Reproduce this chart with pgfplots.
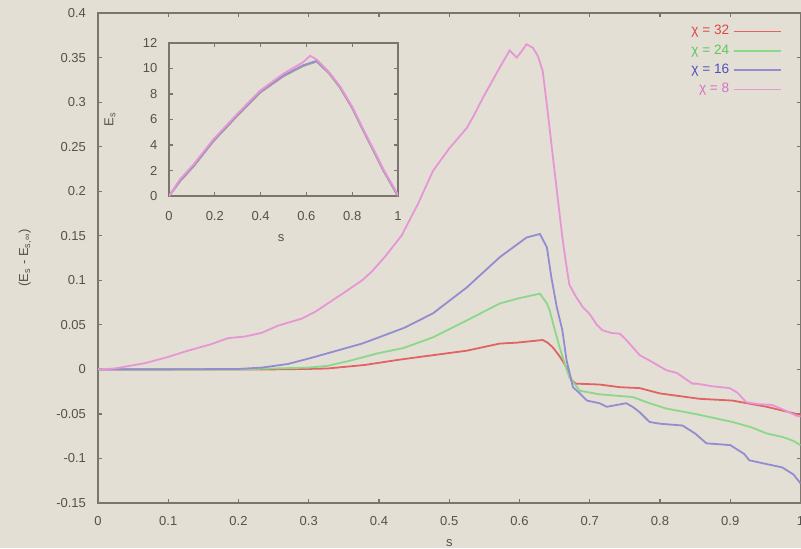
\documentclass[border=0pt]{standalone}
\usepackage{pgfplots}
\pgfplotsset{compat=1.18}
\usepackage{fontspec}
\setmainfont{Liberation Sans}
\definecolor{bgc}{HTML}{E4DFD4}
\definecolor{framec}{HTML}{7A766E}
\definecolor{txtc}{HTML}{55524C}
\definecolor{c32}{HTML}{E06464}
\definecolor{c24}{HTML}{8AD88A}
\definecolor{c16}{HTML}{948CD0}
\definecolor{c8}{HTML}{E696D6}
\definecolor{t32}{HTML}{D84848}
\definecolor{t24}{HTML}{5CC85C}
\definecolor{t16}{HTML}{5050B8}
\definecolor{t8}{HTML}{D670C8}
\pgfplotsset{
  gp/.style={
    scale only axis, anchor=south west,
    axis line style={framec, line width=0.8pt},
    tick style={framec, line width=0.6pt},
    tick align=inside, major tick length=2pt,
    every tick label/.append style={font=\fontsize{6.5}{7}\selectfont, text=txtc},
    label style={font=\fontsize{6.5}{7}\selectfont, text=txtc},
    /pgf/number format/.cd, fixed, precision=2, assume math mode=true,
  },
}
\begin{document}
\begin{tikzpicture}
\fill[bgc] (0,0) rectangle (400.5pt,-274pt);
\begin{axis}[gp,
  at={(49pt,-251.5pt)}, width=351.25pt, height=245pt,
  xmin=0, xmax=1, ymin=-0.15, ymax=0.4,
  xtick={0,0.1,0.2,0.3,0.4,0.5,0.6,0.7,0.8,0.9,1},
  ytick={-0.15,-0.1,-0.05,0,0.05,0.1,0.15,0.2,0.25,0.3,0.35,0.4},
  xticklabel style={yshift=-3pt},
  yticklabel style={xshift=-2.5pt},
  xlabel={s}, ylabel={(E\textsubscript{s} - E\textsubscript{s,∞})},
  xlabel style={at={(axis description cs:0.5,0)}, anchor=center, yshift=-20pt},
  ylabel style={at={(axis description cs:0,0.5)}, anchor=center, yshift=36.5pt},
  legend plot pos=right, legend cell align=right,
  legend style={at={(0.974,0.984)}, anchor=north east, draw=none, fill=none,
    inner sep=0pt, font=\fontsize{6.8}{7.5}\selectfont, row sep=-0.6pt,
    /tikz/every even column/.append style={column sep=3pt}},
  legend image code/.code={\draw[#1, line width=0.8pt] (0pt,0pt) -- (23.5pt,0pt);},
]
\addplot[c32, line width=0.9pt] coordinates {
(0,0) (0.25,0) (0.30,0.0005) (0.327,0.001) (0.38,0.005) (0.43,0.011) (0.525,0.021)
(0.572,0.029) (0.596,0.030) (0.633,0.033) (0.640,0.030) (0.647,0.025) (0.655,0.017)
(0.661,0.010) (0.667,0.002) (0.674,-0.012) (0.68,-0.016) (0.714,-0.017) (0.743,-0.020)
(0.771,-0.021) (0.80,-0.027) (0.856,-0.033) (0.903,-0.035) (0.952,-0.042) (0.994,-0.050) (1,-0.051)};
\addlegendentry{\textcolor{t32}{χ = 32}}
\addplot[c24, line width=0.9pt] coordinates {
(0,0) (0.2,0) (0.25,0.001) (0.30,0.002) (0.327,0.004) (0.36,0.010) (0.398,0.018)
(0.435,0.024) (0.477,0.036) (0.525,0.055) (0.572,0.074) (0.60,0.080) (0.629,0.085)
(0.639,0.074) (0.643,0.066) (0.650,0.045) (0.657,0.025) (0.667,0.0) (0.671,-0.009)
(0.686,-0.024) (0.714,-0.028) (0.761,-0.031) (0.785,-0.038) (0.809,-0.044) (0.85,-0.050)
(0.903,-0.059) (0.93,-0.065) (0.952,-0.072) (0.975,-0.076) (0.989,-0.080) (1,-0.085)};
\addlegendentry{\textcolor{t24}{χ = 24}}
\addplot[c16, line width=0.9pt] coordinates {
(0,0) (0.1,0) (0.2,0.0005) (0.233,0.002) (0.27,0.006) (0.304,0.013) (0.34,0.021)
(0.376,0.029) (0.40,0.036) (0.437,0.047) (0.477,0.063) (0.525,0.092) (0.572,0.126)
(0.610,0.148) (0.629,0.152) (0.639,0.137) (0.645,0.105) (0.653,0.070) (0.661,0.044)
(0.667,0.010) (0.671,-0.003) (0.676,-0.020) (0.686,-0.027) (0.696,-0.035) (0.714,-0.038)
(0.724,-0.042) (0.752,-0.038) (0.761,-0.042) (0.771,-0.048) (0.785,-0.059) (0.80,-0.061)
(0.832,-0.063) (0.85,-0.072) (0.866,-0.083) (0.90,-0.085) (0.92,-0.095) (0.927,-0.102)
(0.95,-0.106) (0.974,-0.110) (0.99,-0.118) (1,-0.128)};
\addlegendentry{\textcolor{t16}{χ = 16}}
\addplot[c8, line width=0.9pt] coordinates {
(0,0) (0.024,0.001) (0.067,0.007) (0.10,0.014) (0.128,0.021) (0.16,0.028) (0.185,0.035)
(0.21,0.037) (0.233,0.041) (0.256,0.049) (0.29,0.057) (0.31,0.065) (0.327,0.074)
(0.35,0.086) (0.376,0.100) (0.39,0.110) (0.408,0.126) (0.432,0.150) (0.455,0.185)
(0.477,0.223) (0.50,0.248) (0.525,0.271) (0.535,0.285) (0.548,0.305) (0.56,0.322)
(0.572,0.339) (0.586,0.358) (0.596,0.350) (0.603,0.357) (0.610,0.365) (0.619,0.361)
(0.626,0.352) (0.633,0.335) (0.640,0.290) (0.647,0.242) (0.654,0.195) (0.661,0.148)
(0.667,0.115) (0.671,0.095) (0.68,0.082) (0.690,0.070) (0.70,0.062) (0.71,0.050)
(0.718,0.044) (0.73,0.041) (0.743,0.040) (0.752,0.033) (0.761,0.025) (0.771,0.016)
(0.785,0.010) (0.809,-0.001) (0.824,-0.004) (0.846,-0.016) (0.852,-0.016) (0.875,-0.019)
(0.899,-0.021) (0.91,-0.026) (0.923,-0.037) (0.94,-0.039) (0.960,-0.040) (0.975,-0.045)
(0.994,-0.052) (1,-0.053)};
\addlegendentry{\textcolor{t8}{χ = 8}}
\end{axis}
\begin{axis}[gp,
  at={(84.5pt,-98pt)}, width=114.5pt, height=76.5pt,
  xmin=0, xmax=1, ymin=0, ymax=12,
  xtick={0,0.2,0.4,0.6,0.8,1}, ytick={0,2,4,6,8,10,12},
  xticklabel style={yshift=-4pt},
  yticklabel style={xshift=-2.3pt},
  xlabel={s}, ylabel={E\textsubscript{s}},
  xlabel style={at={(axis description cs:0.49,0)}, anchor=center, yshift=-21pt},
  ylabel style={at={(axis description cs:0,0.5)}, anchor=center, yshift=29.5pt},
]
\addplot[c32, line width=0.9pt] coordinates {
(0,0) (0.05,1.2) (0.106,2.3) (0.194,4.3) (0.296,6.25) (0.397,8.1) (0.5,9.4) (0.586,10.2)
(0.645,10.55) (0.70,9.6) (0.747,8.5) (0.80,6.9) (0.849,5.1) (0.9,3.3) (0.936,2.0) (1,0)};
\addplot[c24, line width=0.9pt] coordinates {
(0,0) (0.05,1.22) (0.106,2.32) (0.194,4.32) (0.296,6.27) (0.397,8.12) (0.5,9.42) (0.586,10.22)
(0.645,10.57) (0.70,9.62) (0.747,8.52) (0.80,6.92) (0.849,5.12) (0.9,3.32) (0.936,2.02) (1,0)};
\addplot[c16, line width=0.9pt] coordinates {
(0,0) (0.05,1.25) (0.106,2.35) (0.194,4.35) (0.296,6.3) (0.397,8.15) (0.5,9.45) (0.586,10.25)
(0.645,10.6) (0.70,9.65) (0.747,8.55) (0.80,6.95) (0.849,5.15) (0.9,3.35) (0.936,2.05) (1,0)};
\addplot[c8, line width=0.9pt] coordinates {
(0,0) (0.05,1.35) (0.106,2.45) (0.194,4.45) (0.296,6.4) (0.397,8.25) (0.5,9.6) (0.586,10.5)
(0.616,11.0) (0.645,10.7) (0.70,9.7) (0.747,8.6) (0.80,7.0) (0.849,5.2) (0.9,3.4) (0.936,2.1) (1,0.1)};
\end{axis}
\pgfresetboundingbox
\path (0,0) rectangle (400.5pt,-274pt);
\end{tikzpicture}
\end{document}
